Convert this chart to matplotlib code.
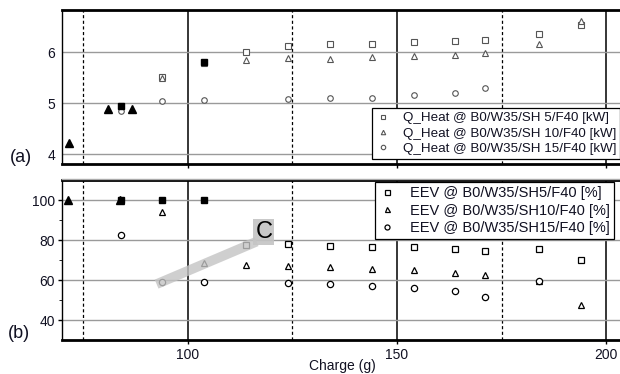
import matplotlib
matplotlib.use("Agg")
import matplotlib.pyplot as plt
from matplotlib.lines import Line2D

plt.rcParams['font.family'] = ['Liberation Sans', 'DejaVu Sans']

# ---- data: (a) heating capacity [kW]
qa_sh5_x = [94, 114, 124, 134, 144, 154, 164, 171, 184, 194]
qa_sh5_y = [5.51, 6.00, 6.12, 6.16, 6.17, 6.21, 6.22, 6.25, 6.37, 6.53]
qa_sh10_x = [94, 104, 114, 124, 134, 144, 154, 164, 171, 184, 194]
qa_sh10_y = [5.50, 5.79, 5.86, 5.89, 5.88, 5.90, 5.92, 5.95, 5.99, 6.17, 6.61]
qa_sh15_x = [84, 94, 104, 124, 134, 144, 154, 164, 171]
qa_sh15_y = [4.85, 5.05, 5.07, 5.09, 5.10, 5.11, 5.17, 5.21, 5.30]
qa_fill_sq_x = [84, 104]
qa_fill_sq_y = [4.94, 5.81]
qa_fill_tri_x = [71.6, 81.1, 86.7]
qa_fill_tri_y = [4.21, 4.89, 4.89]

# ---- data: (b) EEV opening [%]
eb_sh5_x = [114, 124, 134, 144, 154, 164, 171, 184, 194]
eb_sh5_y = [77.5, 78.0, 77.2, 76.8, 76.5, 75.6, 74.8, 75.6, 70.0]
eb_sh10_x = [94, 104, 114, 124, 134, 144, 154, 164, 171, 184, 194]
eb_sh10_y = [94.0, 68.5, 67.6, 67.0, 66.5, 65.7, 65.2, 63.8, 62.5, 59.6, 47.4]
eb_sh15_x = [84, 94, 104, 124, 134, 144, 154, 164, 171, 184]
eb_sh15_y = [82.4, 59.0, 59.0, 58.6, 58.0, 57.2, 56.2, 54.6, 51.3, 59.6]
eb_fill_sq_x = [84, 94, 104]
eb_fill_sq_y = [100, 100, 100]
eb_fill_tri_x = [71.5, 83.8]
eb_fill_tri_y = [100, 100]

band_x = [92.6, 116.5]
band_y = [58.0, 79.3]

legend_a = ["Q_Heat @ B0/W35/SH 5/F40 [kW]", "Q_Heat @ B0/W35/SH 10/F40 [kW]",
            "Q_Heat @ B0/W35/SH 15/F40 [kW]"]
legend_b = ["EEV @ B0/W35/SH5/F40 [%]", "EEV @ B0/W35/SH10/F40 [%]",
            "EEV @ B0/W35/SH15/F40 [%]"]

W, H = 620, 374
fig = plt.figure(figsize=(6.2, 3.74), dpi=100)
L = 62 / W
axA = fig.add_axes([L, 1 - 164.3 / H, 1 - L, (164.3 - 10.2) / H])
axB = fig.add_axes([L, 1 - 340 / H, 1 - L, (340 - 180.3) / H], sharex=axA)

txtc = '#111122'
for ax in (axA, axB):
    ax.set_xlim(70, 203.3)
    for v in (100, 150, 200):
        ax.axvline(v, color='black', lw=1.1, zorder=1)
    for v in (75, 125, 175):
        ax.axvline(v, color='black', lw=0.9, ls=(0, (2.5, 2)), zorder=1)
    ax.grid(axis='y', color='#9a9a9a', lw=1.0, zorder=0)
    ax.spines['right'].set_visible(False)
    ax.spines['top'].set_linewidth(2.0)
    ax.spines['bottom'].set_linewidth(2.0)
    ax.spines['left'].set_linewidth(1.0)
    ax.set_xticks([100, 150, 200])
    ax.tick_params(axis='both', direction='out', length=3, width=1, labelsize=10,
                   colors='black', labelcolor=txtc, pad=2)
    ax.tick_params(axis='x', top=False, pad=3)

axA.set_ylim(3.8, 6.83)
axA.set_yticks([4, 5, 6])
axA.tick_params(axis='x', labelbottom=False)
axA.tick_params(axis='y', length=0, pad=5)

axB.set_ylim(30, 110)
axB.set_yticks([40, 60, 80, 100])
axB.set_yticks([50, 70, 90], minor=True)
axB.tick_params(axis='y', which='minor', length=2, direction='out')

oc = '#555555'
kw_open = dict(ls='none', mfc='white', ms=4, mew=0.8, zorder=3)
axA.plot(qa_sh5_x, qa_sh5_y, marker='s', mec=oc, label=legend_a[0], **kw_open)
axA.plot(qa_sh10_x, qa_sh10_y, marker='^', mec=oc, label=legend_a[1], **kw_open)
axA.plot(qa_sh15_x, qa_sh15_y, marker='o', mec=oc, label=legend_a[2], **kw_open)
axA.plot(qa_fill_sq_x, qa_fill_sq_y, ls='none', marker='s', color='black', ms=5, zorder=4)
axA.plot(qa_fill_tri_x, qa_fill_tri_y, ls='none', marker='^', color='black', ms=6, zorder=4)

kw_openb = dict(ls='none', mfc='white', mec='black', ms=4.5, mew=0.9, zorder=3)
axB.plot(eb_sh5_x, eb_sh5_y, marker='s', label=legend_b[0], **kw_openb)
axB.plot(eb_sh10_x, eb_sh10_y, marker='^', label=legend_b[1], **kw_openb)
axB.plot(eb_sh15_x, eb_sh15_y, marker='o', label=legend_b[2], **kw_openb)
axB.plot(eb_fill_sq_x, eb_fill_sq_y, ls='none', marker='s', color='black', ms=5, zorder=4)
axB.plot(eb_fill_tri_x, eb_fill_tri_y, ls='none', marker='^', color='black', ms=5.5, zorder=4)

axB.plot(band_x, band_y, color='#c4c4c4', lw=7, alpha=0.8, solid_capstyle='butt', zorder=5)
axB.text(118.2, 84.0, "C", fontsize=17, ha='center', va='center', color='black', zorder=6,
         bbox=dict(boxstyle='square,pad=0.08', fc='#c4c4c4', ec='none', alpha=0.9))

fig.text(342 / W, 1 - 366 / H, "Charge (g)", fontsize=10, color=txtc,
         ha='center', va='center')

legkw = dict(frameon=True, fancybox=False, edgecolor='black', framealpha=1,
             handlelength=1.0, borderpad=0.3, borderaxespad=0, markerscale=0.8)
la = axA.legend(loc='upper left', bbox_to_anchor=(372 / W, 1 - 108 / H),
                bbox_transform=fig.transFigure, fontsize=9.6, handletextpad=1.0,
                labelspacing=0.22, **legkw)
lb = axB.legend(loc='upper left', bbox_to_anchor=(375 / W, 1 - 182 / H),
                bbox_transform=fig.transFigure, fontsize=10.5, handletextpad=1.1,
                labelspacing=0.22, **legkw)
for lg in (la, lb):
    lg.get_frame().set_linewidth(0.9)
    lg.set_zorder(10)
    for t in lg.get_texts():
        t.set_color(txtc)

fig.text(10 / W, 1 - 158 / H, "(a)", fontsize=13, va='center', ha='left', color=txtc)
fig.text(8 / W, 1 - 333 / H, "(b)", fontsize=13, va='center', ha='left', color=txtc)
fig.add_artist(Line2D([L, 1], [1 - 179 / H, 1 - 179 / H], transform=fig.transFigure,
                      color='#aaaaaa', lw=1))

fig.savefig("out.png", dpi=100)
